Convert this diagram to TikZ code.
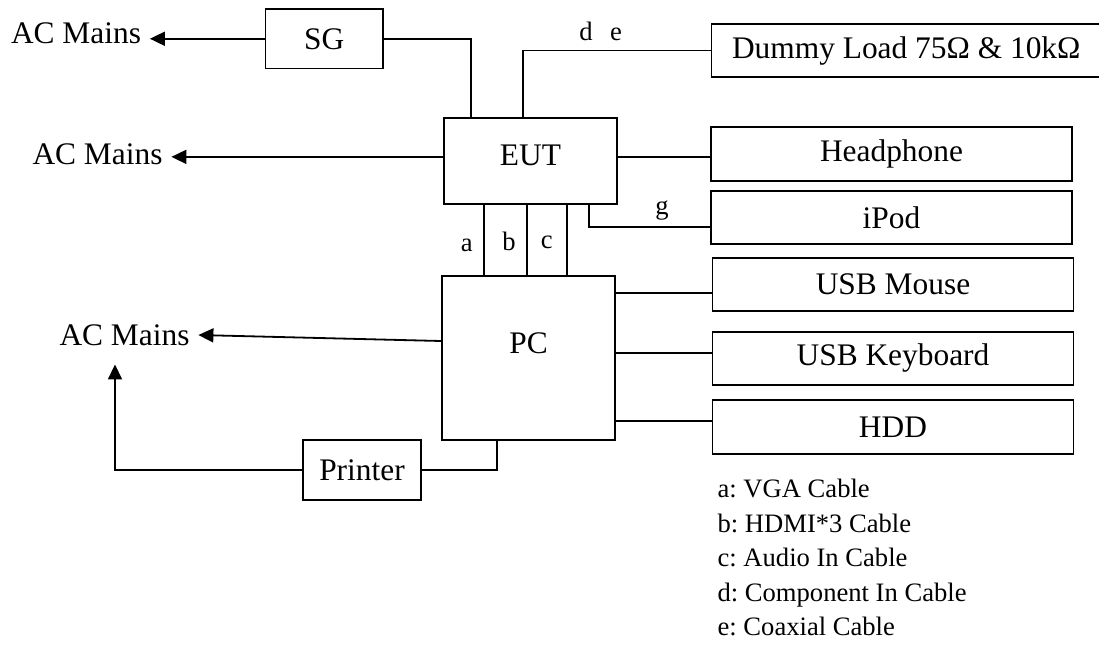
\documentclass[tikz,border=0pt]{standalone}
\usepackage{fontspec}
\setmainfont{Liberation Serif}
\usetikzlibrary{arrows.meta,positioning}
\frenchspacing

\begin{document}
\begin{tikzpicture}[x=0.5pt, y=-0.5pt, line width=0.9pt,
  every node/.style={font=\fontsize{15.7}{19}\selectfont},
  unit/.style={draw, line width=0.9pt, inner sep=0pt},
  dev/.style={unit, minimum width=180.5pt, minimum height=26.7pt},
  mains/.style={inner sep=4pt},
  tag/.style={font=\fontsize{13.3}{16}\selectfont, inner sep=0pt},
  toMains/.style={-{Triangle[length=7.5pt,width=7pt]}}]
  \useasboundingbox (0,0) rectangle (1099,645);

  % units under test
  \node[unit, minimum width=58.75pt, minimum height=29.75pt] (sg) at (324.25,38.75) {SG};
  \node[unit, minimum width=86.5pt, minimum height=43.15pt,
    label={[yshift=2.5pt]center:EUT}] (eut) at (530.5,160.85) {};
  \node[unit, minimum width=86.5pt, minimum height=82pt,
    label={[yshift=7.5pt]center:PC}] (pc) at (528.5,358) {};
  \node[unit, minimum width=59pt, minimum height=30pt] (printer) at (362,470) {Printer};
  \node[unit, minimum width=194.75pt, minimum height=26.5pt] (dummy) at (906.25,50.5)
    {Dummy Load 75Ω \& 10kΩ};

  % peripherals
  \node[dev] (phone) at (891.5,154) {Headphone};
  \node[dev] (ipod) at (891.5,217.35) {iPod};
  \node[dev] (mouse) at (893,284.65) {USB Mouse};
  \node[dev] (keyboard) at (893,358.35) {USB Keyboard};
  \node[dev] (hdd) at (893,427) {HDD};

  % mains
  \node[mains] (ac1) at (76,33.5) {AC Mains};
  \node[mains] (ac2) at (97.5,154.5) {AC Mains};
  \node[mains] (ac3) at (124.5,335) {AC Mains};

  % cables
  \draw[toMains] (sg.west) -- (sg.west -| ac1.east);
  \draw (sg.east) -| ([xshift=-29.75pt]eut.north);
  \draw (dummy.west) -| ([xshift=-3.9pt]eut.north);
  \draw[toMains] ([yshift=2pt]eut.west) -- ([yshift=2pt]eut.west -| ac2.east);
  \draw ([yshift=2pt]eut.east) -- ([yshift=2pt]eut.east -| phone.west);
  \draw ([yshift=-5pt]ipod.west) -| ([xshift=29.25pt]eut.south);
  \foreach \dx in {-23.4,-1.9,18.25}
    \draw ([xshift=\dx pt]eut.south) -- ([xshift=\dx pt]eut.south |- pc.north);
  \draw ([yshift=-4pt]mouse.west) -- ([yshift=-4pt]mouse.west -| pc.east);
  \draw ([yshift=2.5pt]keyboard.west) -- ([yshift=2.5pt]keyboard.west -| pc.east);
  \draw ([yshift=3pt]hdd.west) -- ([yshift=3pt]hdd.west -| pc.east);
  \draw[toMains] ([yshift=8.5pt]pc.west) -- (ac3.east);
  \draw (printer.east) -| ([xshift=-15.9pt]pc.south);
  \draw[toMains] (printer.west) -| ([xshift=-4.75pt,yshift=-5pt]ac3.south);

  % cable tags
  \node[tag, anchor=base] (tag-a) at (466.7,251.5) {a};
  \node[tag, anchor=base] (tag-b) at (509,250) {b};
  \node[tag, anchor=base] (tag-c) at (546.7,248.5) {c};
  \node[tag, anchor=base] (tag-d) at (586,40.7) {d};
  \node[tag, anchor=base] (tag-e) at (616,40.7) {e};
  \node[tag, anchor=base] (tag-g) at (662,214) {g};

  % legend
  \foreach \txt [count=\i] in {a: VGA Cable, b: HDMI*3 Cable, c: Audio In Cable,
      d: Component In Cable, e: Coaxial Cable}
    \node[tag, anchor=base west] (leg\i) at (716.7,{463.2+34.5*\i}) {\txt};
\end{tikzpicture}
\end{document}
